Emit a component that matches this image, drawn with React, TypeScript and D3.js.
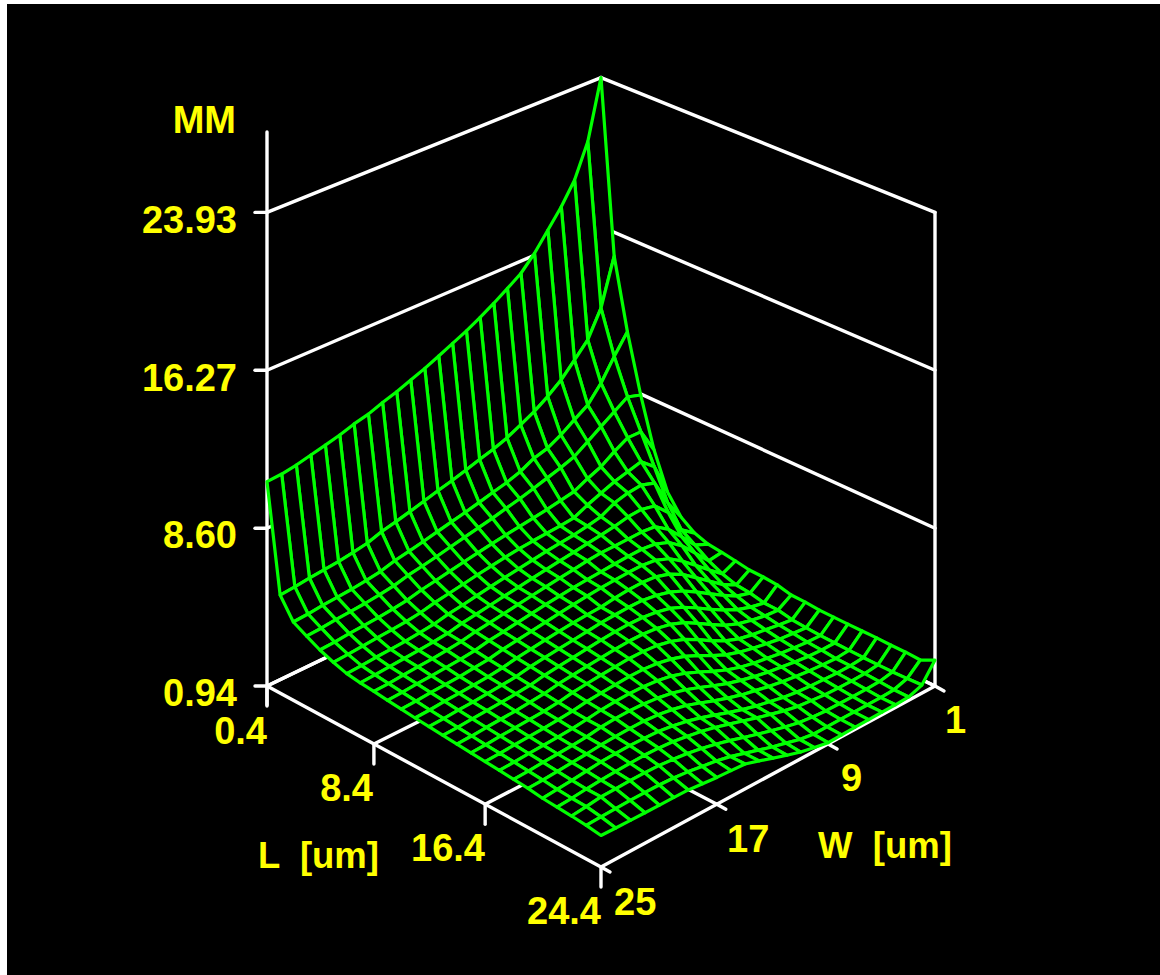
import * as d3 from "d3";

// L and W sweep, 25 steps each
const lengths = d3.range(0, 25).map((i) => 0.4 + i);
const widths = d3.range(0, 25).map((i) => 25 - i);

// MM: one row per L, each row runs W = 25 ... 1
const mmRows = [
  [10.86, 10.91, 11.03, 11.2, 11.37, 11.55, 11.78, 11.95, 12.21, 12.44, 12.71, 12.98, 13.29, 13.62, 13.94, 14.32, 14.73, 15.18, 15.65, 16.37, 17.26, 18.16, 19.24, 20.92, 23.93],
  [5.69, 5.75, 5.84, 5.92, 5.99, 6.1, 6.23, 6.47, 6.63, 6.81, 7.0, 7.2, 7.38, 7.58, 7.8, 8.0, 8.25, 8.6, 8.95, 9.4, 9.93, 10.64, 11.36, 12.68, 15.05],
  [4.72, 4.77, 4.85, 4.91, 4.97, 5.06, 5.17, 5.37, 5.5, 5.65, 5.81, 5.97, 6.12, 6.29, 6.47, 6.64, 6.87, 7.22, 7.41, 7.77, 8.22, 8.66, 9.46, 10.51, 11.47],
  [4.38, 4.42, 4.5, 4.55, 4.61, 4.7, 4.8, 4.98, 5.1, 5.24, 5.39, 5.54, 5.68, 5.83, 6.0, 6.16, 6.35, 6.55, 6.75, 6.99, 7.43, 7.88, 8.32, 8.76, 8.55],
  [4.05, 4.09, 4.16, 4.21, 4.26, 4.34, 4.43, 4.6, 4.72, 4.85, 4.98, 5.1, 5.22, 5.32, 5.42, 5.52, 5.62, 5.74, 5.87, 6.2, 6.48, 6.93, 7.31, 7.3, 6.06],
  [3.8, 3.84, 3.9, 3.95, 4.0, 4.07, 4.16, 4.32, 4.43, 4.55, 4.67, 4.78, 4.88, 4.97, 5.03, 5.08, 5.13, 5.2, 5.52, 5.79, 6.05, 6.23, 6.42, 5.84, 4.25],
  [3.6, 3.64, 3.7, 3.74, 3.79, 3.86, 3.94, 4.09, 4.19, 4.31, 4.43, 4.54, 4.64, 4.74, 4.84, 4.92, 5.0, 5.12, 5.26, 5.62, 5.8, 5.88, 5.66, 4.33, 3.3],
  [3.5, 3.54, 3.59, 3.64, 3.69, 3.75, 3.83, 3.98, 4.08, 4.19, 4.3, 4.4, 4.5, 4.6, 4.7, 4.8, 4.9, 5.0, 5.1, 5.25, 5.3, 5.15, 4.5, 3.3, 2.81],
  [3.44, 3.47, 3.53, 3.58, 3.62, 3.69, 3.77, 3.91, 4.0, 4.11, 4.22, 4.32, 4.42, 4.52, 4.6, 4.7, 4.77, 4.78, 4.8, 4.82, 4.76, 4.3, 3.6, 2.86, 2.58],
  [3.36, 3.39, 3.45, 3.49, 3.54, 3.6, 3.68, 3.82, 3.91, 4.02, 4.12, 4.22, 4.3, 4.38, 4.44, 4.49, 4.55, 4.6, 4.62, 4.55, 4.3, 3.8, 3.1, 2.4, 2.49],
  [3.29, 3.32, 3.38, 3.42, 3.46, 3.53, 3.6, 3.74, 3.83, 3.93, 4.03, 4.13, 4.22, 4.3, 4.37, 4.42, 4.46, 4.48, 4.4, 4.15, 3.7, 3.15, 2.6, 2.07, 2.39],
  [3.22, 3.25, 3.31, 3.35, 3.39, 3.45, 3.53, 3.66, 3.75, 3.85, 3.93, 4.0, 4.06, 4.1, 4.2, 4.27, 4.3, 4.25, 4.05, 3.7, 3.2, 2.7, 2.2, 1.85, 2.27],
  [3.16, 3.19, 3.24, 3.28, 3.33, 3.39, 3.46, 3.59, 3.68, 3.76, 3.84, 3.92, 4.0, 4.05, 4.09, 4.09, 4.0, 3.83, 3.55, 3.16, 2.74, 2.33, 1.96, 1.78, 2.25],
  [3.1, 3.13, 3.18, 3.22, 3.26, 3.32, 3.39, 3.52, 3.6, 3.68, 3.76, 3.85, 3.91, 3.94, 3.93, 3.85, 3.7, 3.42, 3.05, 2.65, 2.27, 1.96, 1.75, 1.62, 2.19],
  [3.04, 3.07, 3.12, 3.16, 3.2, 3.26, 3.33, 3.45, 3.53, 3.6, 3.67, 3.74, 3.79, 3.79, 3.73, 3.59, 3.34, 2.97, 2.57, 2.2, 1.93, 1.77, 1.65, 1.6, 2.02],
  [2.98, 3.01, 3.06, 3.1, 3.14, 3.19, 3.26, 3.38, 3.46, 3.53, 3.58, 3.63, 3.63, 3.58, 3.44, 3.2, 2.85, 2.45, 2.11, 1.87, 1.73, 1.64, 1.54, 1.46, 2.0],
  [2.93, 2.96, 3.0, 3.04, 3.08, 3.13, 3.2, 3.3, 3.36, 3.41, 3.46, 3.46, 3.4, 3.27, 3.06, 2.76, 2.41, 2.11, 1.9, 1.75, 1.63, 1.52, 1.46, 1.4, 1.94],
  [2.87, 2.9, 2.95, 2.98, 3.02, 3.07, 3.15, 3.25, 3.3, 3.33, 3.32, 3.26, 3.14, 2.93, 2.65, 2.34, 2.06, 1.85, 1.7, 1.6, 1.5, 1.43, 1.37, 1.35, 1.93],
  [2.81, 2.84, 2.89, 2.93, 2.97, 3.03, 3.14, 3.19, 3.21, 3.19, 3.12, 3.01, 2.83, 2.59, 2.33, 2.09, 1.9, 1.74, 1.61, 1.52, 1.42, 1.35, 1.32, 1.33, 1.92],
  [2.75, 2.78, 2.83, 2.88, 2.93, 3.0, 3.04, 3.07, 3.07, 3.02, 2.92, 2.77, 2.54, 2.3, 2.08, 1.89, 1.75, 1.6, 1.49, 1.4, 1.33, 1.28, 1.25, 1.31, 1.92],
  [2.65, 2.7, 2.76, 2.84, 2.91, 2.95, 2.97, 2.96, 2.93, 2.84, 2.71, 2.53, 2.31, 2.08, 1.88, 1.7, 1.56, 1.42, 1.33, 1.28, 1.25, 1.22, 1.23, 1.29, 1.92],
  [2.6, 2.65, 2.72, 2.78, 2.82, 2.85, 2.87, 2.85, 2.8, 2.7, 2.58, 2.42, 2.23, 2.03, 1.83, 1.65, 1.47, 1.33, 1.27, 1.2, 1.18, 1.18, 1.2, 1.28, 1.9],
  [2.55, 2.62, 2.71, 2.73, 2.75, 2.76, 2.74, 2.68, 2.6, 2.48, 2.33, 2.15, 1.95, 1.75, 1.57, 1.4, 1.25, 1.17, 1.12, 1.12, 1.12, 1.12, 1.15, 1.28, 1.9],
  [2.48, 2.51, 2.53, 2.55, 2.55, 2.55, 2.52, 2.45, 2.35, 2.25, 2.1, 1.9, 1.7, 1.5, 1.33, 1.15, 1.05, 1.05, 1.06, 1.06, 1.06, 1.07, 1.1, 1.3, 1.86],
  [2.38, 2.36, 2.35, 2.34, 2.33, 2.33, 2.32, 2.25, 2.19, 2.15, 2.11, 1.9, 1.68, 1.46, 1.26, 1.12, 1.0, 1.02, 1.04, 1.05, 1.06, 1.07, 1.1, 1.33, 2.2],
];

const mmTicks = [0.94, 8.6, 16.27, 23.93];
const mmTickLabels = ["0.94", "8.60", "16.27", "23.93"];
const lTicks = [0.4, 8.4, 16.4, 24.4];
const wTicks = [1, 9, 17, 25];

// floor corners on screen: A (L min, W max), F (L max, W max), R (L max, W min), B (L min, W min)
const A = [267, 686];
const F = [601, 867];
const R = [935, 686];
const B = [601, 525];

const sx = A[0] - F[0] + R[0] - B[0];
const sy = A[1] - F[1] + R[1] - B[1];
const dx1 = F[0] - R[0];
const dy1 = F[1] - R[1];
const dx2 = B[0] - R[0];
const dy2 = B[1] - R[1];
const den = dx1 * dy2 - dx2 * dy1;
const g = (sx * dy2 - dx2 * sy) / den;
const h = (dx1 * sy - sx * dy1) / den;

const sScale = d3.scaleLinear().domain([0.4, 24.4]).range([0, 1]);
const tScale = d3.scaleLinear().domain([25, 1]).range([0, 1]);
const zScale = d3.scaleLinear().domain([0.94, 23.93]).range([0, 473.6]);

const project = (l: number, w: number, mm: number): [number, number] => {
  const s = sScale(l);
  const t = tScale(w);
  const d = 1 + g * s + h * t;
  const x = (F[0] - A[0] + g * F[0]) * s + (B[0] - A[0] + h * B[0]) * t + A[0];
  const y = (F[1] - A[1] + g * F[1]) * s + (B[1] - A[1] + h * B[1]) * t + A[1] - zScale(mm);
  return [x / d, y / d];
};

const line = d3.line();
const seg = (a: [number, number], b: [number, number]) => line([a, b]) as string;

const WHITE = "#ffffff";
const GREEN = "#00ff00";
const YELLOW = "#ffff00";
const FONT = "'Liberation Sans', Arial, sans-serif";

const tickTexts: [string, number, number, string][] = [
  ["MM", 236, 133, "end"],
  [mmTickLabels[3], 237, 233, "end"],
  [mmTickLabels[2], 237, 391, "end"],
  [mmTickLabels[1], 237, 548, "end"],
  [mmTickLabels[0], 237, 706, "end"],
  ["0.4", 267, 744, "end"],
  ["8.4", 373, 801, "end"],
  ["16.4", 485, 861, "end"],
  ["24.4", 601, 924, "end"],
  ["25", 614, 915, "start"],
  ["17", 727, 852, "start"],
  ["9", 841, 791, "start"],
  ["1", 945, 733, "start"],
];
const axisTexts: [string, number, number][] = [
  ["L  [um]", 258, 868],
  ["W  [um]", 818, 858],
];

export default function App() {
  // back to front so nearer cells cover what is behind them
  const cells: { key: string; d: string }[] = [];
  for (let i = 0; i < lengths.length - 1; i++) {
    for (let j = widths.length - 2; j >= 0; j--) {
      const pts = [
        project(lengths[i], widths[j], mmRows[i][j]),
        project(lengths[i + 1], widths[j], mmRows[i + 1][j]),
        project(lengths[i + 1], widths[j + 1], mmRows[i + 1][j + 1]),
        project(lengths[i], widths[j + 1], mmRows[i][j + 1]),
      ];
      cells.push({ key: `${i}-${j}`, d: (line(pts) as string) + "Z" });
    }
  }

  const zMin = mmTicks[0];
  const zMax = mmTicks[3];
  const white: string[] = [];
  // vertical edges
  white.push(seg([A[0], 132], [A[0], 705]));
  white.push(seg(project(24.4, 1, zMin), project(24.4, 1, zMax)));
  white.push(seg(project(0.4, 1, zMin), project(0.4, 1, zMax)));
  // wall lines and mm ticks
  mmTicks.forEach((m) => {
    white.push(seg(project(0.4, 25, m), project(0.4, 1, m)));
    white.push(seg(project(24.4, 1, m), project(0.4, 1, m)));
    const p = project(0.4, 25, m);
    white.push(seg([p[0] - 12, p[1]], p));
  });
  // floor lines and outward ticks
  lTicks.forEach((l) => {
    const p = project(l, 25, zMin);
    white.push(seg(p, project(l, 1, zMin)));
    white.push(seg(p, [p[0], p[1] + 20]));
  });
  wTicks.forEach((w) => {
    const p = project(24.4, w, zMin);
    white.push(seg(p, project(0.4, w, zMin)));
    white.push(seg(p, [p[0] + 9, p[1] + 5]));
  });

  return (
    <svg
      width={1160}
      height={975}
      style={{ position: "fixed", left: 0, top: 0, display: "block" }}
    >
      <rect x={0} y={0} width={1160} height={975} fill="#fff" />
      <rect x={7} y={4} width={1153} height={971} fill="#000" />
      <g stroke={WHITE} strokeWidth={3.4} fill="none" strokeLinecap="round">
        {white.map((d, i) => (
          <path key={i} d={d} />
        ))}
      </g>
      <g stroke={GREEN} strokeWidth={3.2} fill="#000" strokeLinejoin="round">
        {cells.map((c) => (
          <path key={c.key} d={c.d} />
        ))}
      </g>
      <g fill={YELLOW} fontFamily={FONT} fontWeight="bold">
        {tickTexts.map(([label, x, y, anchor]) => (
          <text key={label} x={x} y={y} fontSize={38} textAnchor={anchor}>
            {label}
          </text>
        ))}
        {axisTexts.map(([label, x, y]) => (
          <text key={label} x={x} y={y} fontSize={36.5} style={{ whiteSpace: "pre" }}>
            {label}
          </text>
        ))}
      </g>
    </svg>
  );
}
